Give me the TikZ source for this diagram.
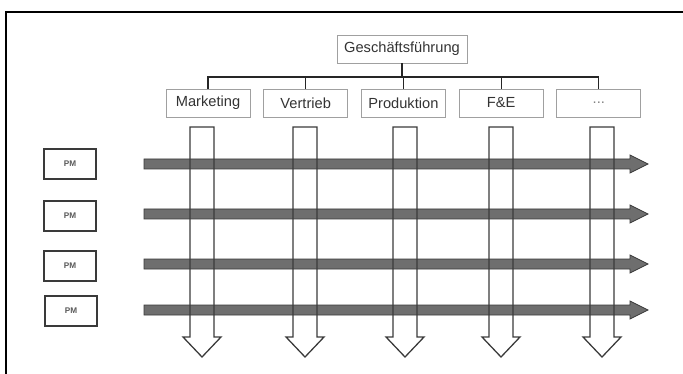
\documentclass[tikz,border=0pt]{standalone}
\usepackage{fontspec}
\setmainfont{Liberation Sans}
\usepackage{xcolor}
\usetikzlibrary{positioning}

\definecolor{linegray}{HTML}{3A3A3A}
\definecolor{bandgray}{HTML}{6E6E6E}
\definecolor{boxgray}{HTML}{A0A0A0}

\begin{document}
\begin{tikzpicture}[x=0.03cm, y=-0.03cm,
    unitbox/.style={draw=boxgray, line width=0.6pt, minimum width=2.52cm, minimum height=0.84cm,
        inner sep=0pt, text=black!80, font=\fontsize{12.5}{14}\selectfont},
    pmbox/.style={draw=linegray, line width=0.9pt, minimum width=1.56cm, minimum height=0.9cm,
        inner sep=0pt, text=black!65, font=\fontsize{7}{8}\selectfont\bfseries},
    orgline/.style={draw=black!85, line width=1pt},
    flowarrow/.style={draw=linegray, fill=bandgray, line width=0.7pt},
    unitarrow/.style={draw=linegray, line width=1.1pt, line join=miter}]
    \useasboundingbox (0,0) rectangle (683,374);

    % Frame (cut at the page edge)
    \draw[line width=0.9pt] (6,374) -- (6,12) -- (683,12);

    % Management and units
    \node[unitbox, minimum width=3.9cm] (gf) at (402,49) {Geschäftsführung};
    \node[unitbox] (mkt) at (208,103) {Marketing};
    \node[unitbox, right=0.39cm of mkt] (vt) {Vertrieb};
    \node[unitbox, right=0.39cm of vt] (prod) {Produktion};
    \node[unitbox, right=0.39cm of prod] (fe) {F\&E};
    \node[unitbox, right=0.39cm of fe, text=black!50] (more) {...};

    % Org lines
    \coordinate (bus) at (402,77);
    \draw[orgline] (gf.south) -- (bus);
    \draw[orgline] (mkt.north) |- (bus) -| (more.north);
    \foreach \u in {vt, prod, fe}
        \draw[orgline] (\u.north) -- (\u.north |- bus);

    % Project managers
    \node[pmbox] (pm1) at (70,164) {PM};
    \node[pmbox] (pm2) at (70,216) {PM};
    \node[pmbox] (pm3) at (70,266) {PM};
    \node[pmbox] (pm4) at (71,311) {PM};

    % Project flow (horizontal)
    \foreach \y in {164,214,264,310}
        \draw[flowarrow] (144,{\y-5}) -- (630,{\y-5}) -- (630,{\y-9}) -- (648,\y)
            -- (630,{\y+9}) -- (630,{\y+5}) -- (144,{\y+5}) -- cycle;

    % Unit flow (vertical, open)
    \foreach \x in {202,305,405,501,602}
        \draw[unitarrow] ({\x-12},127) -- ({\x+12},127) -- ({\x+12},337) -- ({\x+19},337)
            -- (\x,357) -- ({\x-19},337) -- ({\x-12},337) -- cycle;
\end{tikzpicture}
\end{document}
